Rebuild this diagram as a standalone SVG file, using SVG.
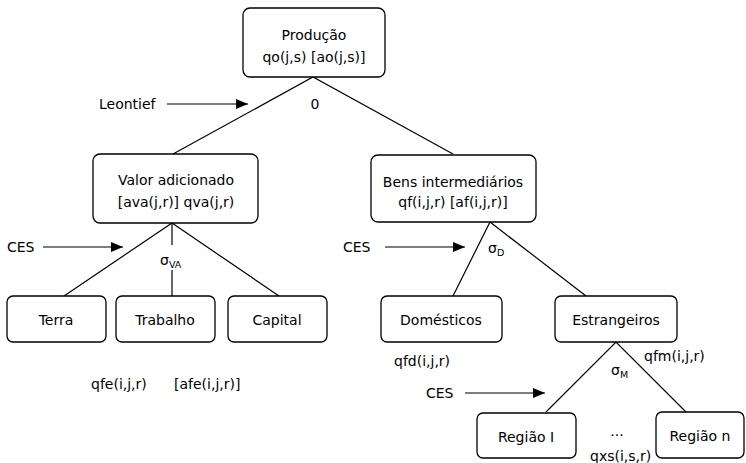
<svg xmlns="http://www.w3.org/2000/svg" width="746" height="463" viewBox="0 0 746 463">
<defs>
<marker id="ah" viewBox="0 0 12 10" refX="12" refY="5" markerWidth="12" markerHeight="10" markerUnits="userSpaceOnUse" orient="auto">
<path d="M0,0 L12,5 L0,10 Z" fill="#000"/>
</marker>
</defs>
<style>
.box{fill:#fff;stroke:#000;stroke-width:1.3}
text{font-family:"DejaVu Sans","Liberation Sans",sans-serif;font-size:14px;fill:#000}
.c{text-anchor:middle}
.ln{stroke:#000;stroke-width:1.2;fill:none}
.ar{stroke:#000;stroke-width:1.2;fill:none;marker-end:url(#ah)}
.sub{font-size:9.5px}
</style>
<rect width="746" height="463" fill="#fff"/>
<g id="connectors">
<path class="ln" d="M173,154 L313,77 L453,154"/>
<path class="ln" d="M64,296 L172,223 L279,296"/>
<path class="ln" d="M172,223 L172,245 M172,270 L172,296"/>
<path class="ln" d="M453,296 L490,222 L586,296"/>
<path class="ln" d="M546,412 L616,342 L686,412"/>
<path class="ar" d="M167,104 L248,104"/>
<path class="ar" d="M43,247 L123,247"/>
<path class="ar" d="M385,247 L465,247"/>
<path class="ar" d="M465,393 L545,393"/>
</g>
<g id="producao">
<rect class="box" x="243" y="8" width="142" height="69" rx="7"/>
<text class="c" x="314" y="40">Produção</text>
<text class="c" x="314" y="62">qo(j,s) [ao(j,s)]</text>
</g>
<g id="valor">
<rect class="box" x="93" y="154" width="165" height="69" rx="7"/>
<text class="c" x="176" y="185">Valor adicionado</text>
<text class="c" x="176" y="207">[ava(j,r)] qva(j,r)</text>
</g>
<g id="bens">
<rect class="box" x="371" y="155" width="165" height="67" rx="7"/>
<text class="c" x="453" y="187">Bens intermediários</text>
<text class="c" x="453" y="207">qf(i,j,r) [af(i,j,r)]</text>
</g>
<g id="terra">
<rect class="box" x="7" y="296" width="99" height="46" rx="6"/>
<text class="c" x="56" y="325">Terra</text>
</g>
<g id="trabalho">
<rect class="box" x="116" y="296" width="99" height="46" rx="6"/>
<text class="c" x="165" y="325">Trabalho</text>
</g>
<g id="capital">
<rect class="box" x="228" y="296" width="99" height="46" rx="6"/>
<text class="c" x="277" y="325">Capital</text>
</g>
<g id="domesticos">
<rect class="box" x="381" y="296" width="121" height="46" rx="6"/>
<text class="c" x="441" y="325">Domésticos</text>
</g>
<g id="estrangeiros">
<rect class="box" x="555" y="296" width="122" height="46" rx="6"/>
<text class="c" x="616" y="325">Estrangeiros</text>
</g>
<g id="regiao1">
<rect class="box" x="477" y="413" width="99" height="45" rx="6"/>
<text class="c" x="526" y="442">Região I</text>
</g>
<g id="regiaon">
<rect class="box" x="656" y="412" width="88" height="46" rx="6"/>
<text class="c" x="700" y="441">Região n</text>
</g>
<g id="labels">
<text x="99" y="109">Leontief</text>
<text class="c" x="315" y="109">0</text>
<text x="7" y="252">CES</text>
<text x="343" y="252">CES</text>
<text x="426" y="398">CES</text>
<text x="160" y="265">σ<tspan class="sub" dy="3">VA</tspan></text>
<text x="488" y="253">σ<tspan class="sub" dy="3">D</tspan></text>
<text x="611" y="375">σ<tspan class="sub" dy="3">M</tspan></text>
<text x="91" y="389">qfe(i,j,r)</text>
<text x="174" y="389">[afe(i,j,r)]</text>
<text x="394" y="366">qfd(i,j,r)</text>
<text x="644" y="361">qfm(i,j,r)</text>
<text class="c" x="617" y="436">...</text>
<text x="590" y="461">qxs(i,s,r)</text>
</g>
</svg>
